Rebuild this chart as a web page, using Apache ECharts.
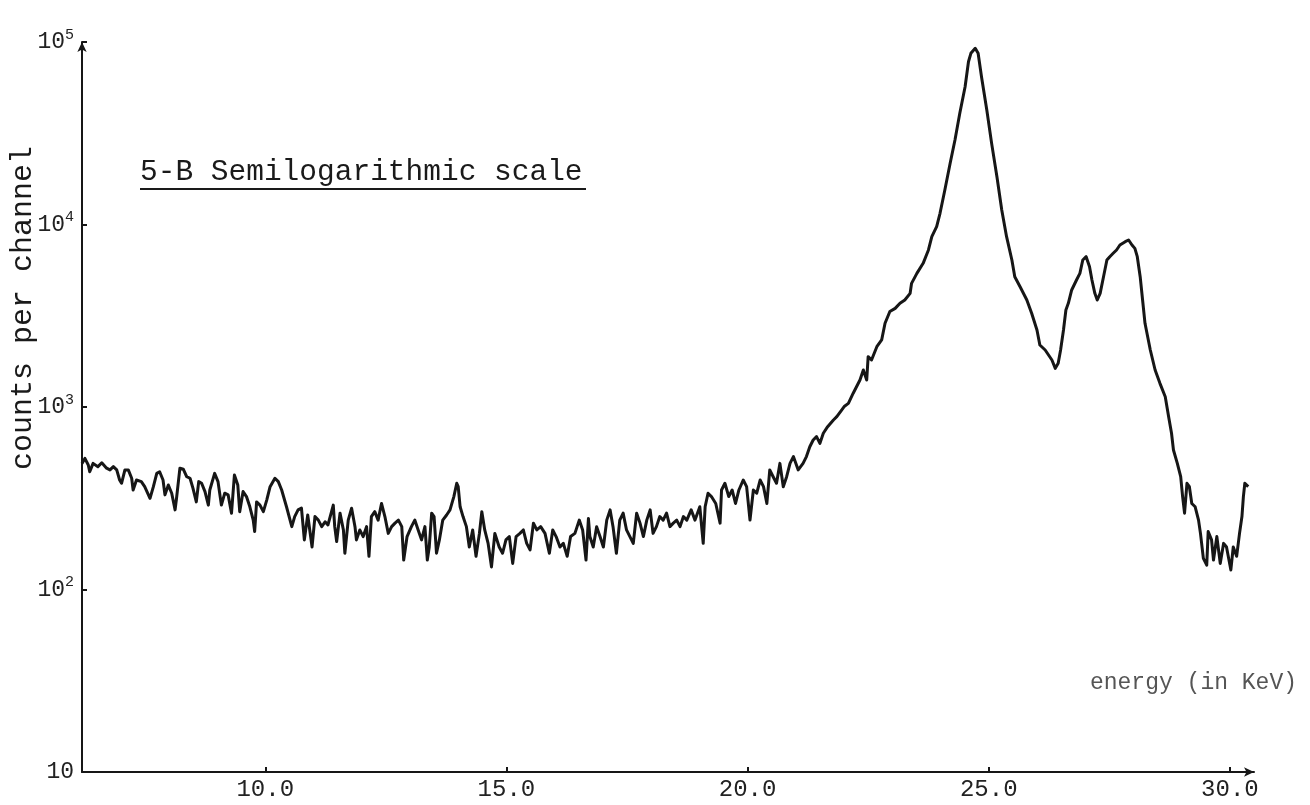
<!DOCTYPE html>
<html><head><meta charset="utf-8">
<script src="https://cdn.jsdelivr.net/npm/echarts@6/dist/echarts.min.js"></script>
<style>html,body{margin:0;padding:0;background:#fff}#c{width:1310px;height:805px}</style>
</head><body><div id="c"></div>
<script>
const energy = [
6.20,6.26,6.33,6.36,6.43,6.53,6.61,6.71,6.78,6.85,6.92,6.98,7.02,7.09,7.16,7.23,7.26,7.33,7.43,7.50,
7.61,7.68,7.75,7.81,7.88,7.92,7.99,8.06,8.13,8.16,8.23,8.30,8.37,8.44,8.50,8.57,8.62,8.68,8.75,8.82,
8.85,8.95,9.02,9.09,9.16,9.23,9.30,9.36,9.43,9.47,9.54,9.61,9.68,9.75,9.78,9.82,9.89,9.96,10.03,10.10,
10.20,10.27,10.34,10.44,10.55,10.61,10.68,10.75,10.81,10.88,10.92,10.97,11.03,11.10,11.17,11.24,11.30,11.41,11.44,11.48,
11.55,11.62,11.65,11.72,11.79,11.86,11.89,11.96,12.03,12.10,12.15,12.20,12.27,12.34,12.41,12.48,12.55,12.62,12.69,12.76,
12.83,12.87,12.94,13.03,13.10,13.17,13.24,13.31,13.36,13.40,13.45,13.50,13.55,13.61,13.68,13.76,13.83,13.91,13.97,14.00,
14.04,14.10,14.17,14.23,14.30,14.37,14.44,14.49,14.55,14.62,14.69,14.76,14.85,14.92,14.99,15.06,15.13,15.20,15.28,15.35,
15.42,15.49,15.56,15.63,15.71,15.80,15.89,15.96,16.03,16.11,16.18,16.26,16.33,16.42,16.51,16.58,16.65,16.70,16.73,16.80,
16.87,16.94,17.01,17.08,17.15,17.21,17.28,17.35,17.42,17.49,17.56,17.63,17.70,17.77,17.84,17.91,17.98,18.04,18.11,18.18,
18.25,18.32,18.39,18.46,18.53,18.60,18.67,18.74,18.83,18.91,19.01,19.08,19.12,19.18,19.25,19.34,19.43,19.46,19.53,19.61,
19.68,19.75,19.82,19.91,19.98,20.05,20.12,20.19,20.26,20.33,20.40,20.46,20.53,20.60,20.67,20.74,20.81,20.88,20.95,21.05,
21.15,21.22,21.29,21.36,21.43,21.50,21.57,21.66,21.78,21.85,21.95,22.01,22.09,22.19,22.33,22.40,22.47,22.50,22.57,22.68,
22.78,22.85,22.95,23.06,23.16,23.26,23.37,23.40,23.51,23.64,23.75,23.82,23.92,23.99,24.09,24.20,24.30,24.40,24.51,24.58,
24.63,24.72,24.78,24.85,24.96,25.06,25.17,25.27,25.37,25.48,25.54,25.65,25.79,25.89,26.00,26.06,26.17,26.24,26.31,26.38,
26.44,26.49,26.55,26.60,26.65,26.72,26.82,26.89,26.95,27.02,27.09,27.14,27.20,27.25,27.31,27.38,27.45,27.51,27.58,27.65,
27.72,27.83,27.90,27.97,28.03,28.08,28.14,28.19,28.24,28.35,28.45,28.55,28.66,28.73,28.79,28.83,28.91,28.98,29.02,29.06,
29.11,29.16,29.21,29.28,29.35,29.39,29.45,29.52,29.55,29.62,29.66,29.73,29.80,29.87,29.93,30.02,30.07,30.14,30.20,30.25,
30.28,30.31,30.38
];
// counts per channel
const counts = [
490,523,481,442,491,471,495,462,452,471,452,398,382,452,452,407,351,398,390,366,
316,366,433,442,398,330,374,337,273,316,462,456,415,407,359,302,390,382,344,290,
351,433,390,290,337,330,262,424,374,267,344,323,284,240,208,302,290,267,309,366,
407,390,351,284,221,251,273,279,187,256,262,171,251,240,221,235,226,290,221,183,
262,212,158,240,279,221,187,212,195,221,152,251,267,240,296,251,203,221,231,240,
221,145,195,221,240,212,187,221,145,171,262,251,158,187,240,256,273,323,382,366,
284,251,221,171,212,152,203,267,212,179,133,203,171,158,187,195,139,195,203,212,
179,165,231,212,221,203,158,212,195,171,179,152,195,203,240,212,145,245,195,171,
221,195,171,240,273,221,158,240,262,212,195,179,262,231,195,240,273,203,221,251,
240,262,221,231,240,221,251,240,273,240,284,179,284,337,323,296,231,351,382,323,
351,296,351,398,366,240,351,337,398,366,296,452,415,382,491,366,415,491,535,452,
491,535,606,659,688,632,718,780,849,885,962,1010,1047,1190,1406,1595,1406,1887,1810,2140,
2329,2875,3335,3470,3700,3858,4196,4760,5400,6127,7250,8575,9730,11515,15450,21640,29040,40660,56900,77980,
86670,92340,86670,64560,42410,27840,18280,12010,8575,6390,5175,4563,3858,3261,2642,2187,2053,1928,1810,1629,
1736,2053,2642,3401,3700,4377,4965,5400,6390,6662,5872,4965,4196,3858,4196,5175,6390,6662,6953,7250,
7720,8050,8225,7720,7400,6662,5175,3858,2875,2053,1595,1348,1139,885,718,581,491,415,323,262,
382,366,296,284,240,203,148,136,208,187,145,195,139,179,171,128,171,152,203,251,
323,382,366
];
const xTicks = [10, 15, 20, 25, 30];
const titleText = '5-B Semilogarithmic scale';
const yName = 'counts per channel';
const xName = 'energy (in KeV)';
const FONT = '"Liberation Mono", "DejaVu Sans Mono", monospace';
const INK = '#161616';

const chart = echarts.init(document.getElementById('c'), null, {renderer: 'canvas'});
const option = {
  animation: false,
  backgroundColor: '#ffffff',
  grid: {left: 82, right: 56, top: 42, bottom: 33},
  xAxis: {
    type: 'value', min: 6.2, max: 30.5,
    axisLine: {show: true, onZero: false, lineStyle: {color: INK, width: 2}, symbol: ['none', 'arrow'], symbolSize: [7, 10]},
    axisTick: {show: true, inside: true, length: 5, customValues: xTicks, lineStyle: {color: INK, width: 2}},
    axisLabel: {customValues: xTicks, formatter: v => v.toFixed(1), fontFamily: FONT, fontSize: 24, color: '#222', margin: 6},
    splitLine: {show: false}
  },
  yAxis: {
    type: 'log', logBase: 10, min: 10, max: 100000,
    axisLine: {show: true, onZero: false, lineStyle: {color: INK, width: 2}, symbol: ['none', 'arrow'], symbolSize: [7, 10]},
    axisTick: {show: true, inside: true, length: 5, lineStyle: {color: INK, width: 2}},
    axisLabel: {
      margin: 8,
      formatter: v => { const e = Math.round(Math.log10(v)); return e === 1 ? '{b|10}' : '{b|10}{s|' + e + '}'; },
      rich: {
        b: {fontFamily: FONT, fontSize: 23, color: '#222'},
        s: {fontFamily: FONT, fontSize: 15, color: '#222', padding: [0, 0, 14, 0]}
      }
    },
    splitLine: {show: false}
  },
  series: [{
    type: 'line',
    data: energy.map((e, i) => [e, counts[i]]),
    showSymbol: false,
    lineStyle: {color: INK, width: 3, join: 'round'}
  }],
  graphic: [
    {type: 'text', x: 140, y: 172, style: {text: titleText, font: '29.5px ' + FONT, fill: '#1a1a1a', align: 'left', verticalAlign: 'middle'}},
    {type: 'line', shape: {x1: 140, y1: 189, x2: 586, y2: 189}, style: {stroke: '#1a1a1a', lineWidth: 2}},
    {type: 'text', x: 23, y: 308, rotation: Math.PI / 2, style: {text: yName, font: '30px ' + FONT, fill: '#1a1a1a', align: 'center', verticalAlign: 'middle'}},
    {type: 'text', x: 1297, y: 683, style: {text: xName, font: '23px ' + FONT, fill: '#555', align: 'right', verticalAlign: 'middle'}}
  ]
};
chart.setOption(option);
</script>
</body></html>
